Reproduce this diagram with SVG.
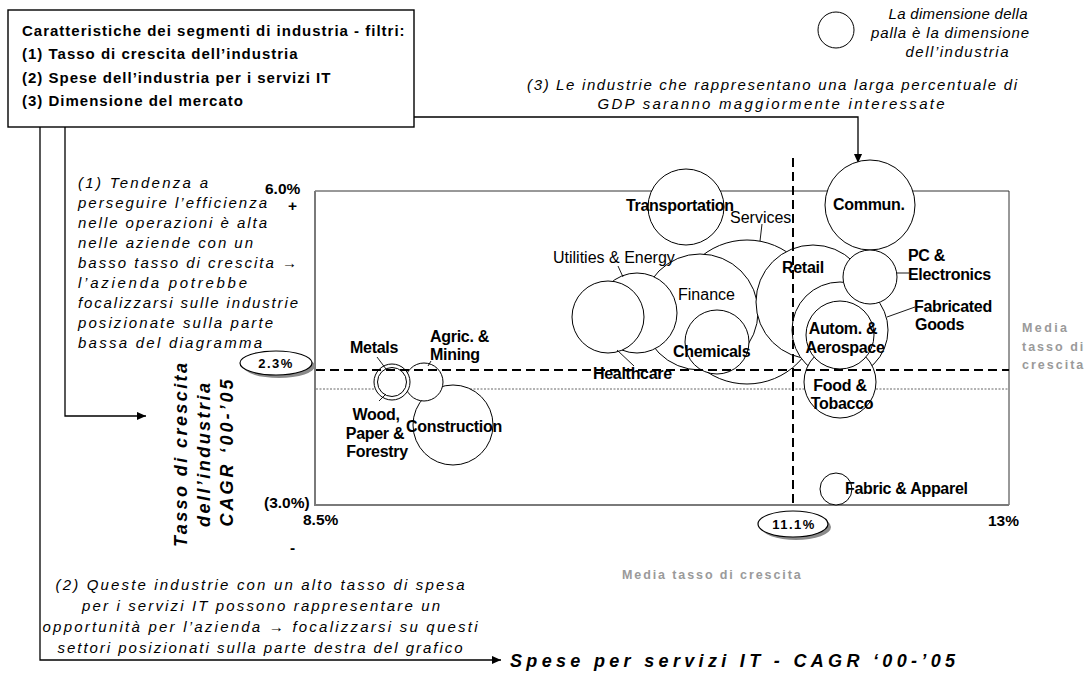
<svg xmlns="http://www.w3.org/2000/svg" width="1085" height="678" viewBox="0 0 1085 678">
  <style>
    text { font-family: "Liberation Sans", Arial, sans-serif; fill: #000; }
    .hdr { font-size: 15px; font-weight: bold; letter-spacing: 1px; }
    .note { font-size: 15px; font-style: italic; }
    .lbl { font-size: 16px; font-weight: bold; letter-spacing: -0.3px; }
    .lblr { font-size: 16px; }
    .ax { font-size: 15.5px; font-weight: bold; }
    .pill { font-size: 13px; font-weight: bold; letter-spacing: 1.5px; }
    .gray { font-size: 12.5px; font-weight: bold; fill: #9a9a9a; }
    .ttl { font-size: 18px; font-weight: bold; font-style: italic; }
    .bub { fill: #fff; stroke: #000; stroke-width: 1; }
    .lead { stroke: #000; stroke-width: 0.9; fill: none; }
    .conn { stroke: #000; stroke-width: 1.3; fill: none; }
    .dash { stroke: #000; stroke-width: 2; stroke-dasharray: 9 5; fill: none; }
    .dot { stroke: #555; stroke-width: 0.9; stroke-dasharray: 2 1.5; fill: none; }
  </style>
  <defs>
    <marker id="arr" viewBox="0 0 10 10" refX="10" refY="5" markerWidth="10" markerHeight="9" markerUnits="userSpaceOnUse" orient="auto">
      <path d="M0,0.5 L10,5 L0,9.5 z" fill="#000"/>
    </marker>
  </defs>

  <rect width="1085" height="678" fill="#fff"/>

  <!-- filter criteria box -->
  <g id="criteria">
    <rect x="8" y="10" width="406" height="117" fill="#fff" stroke="#000" stroke-width="1.4"/>
    <text class="hdr" x="22" y="36">Caratteristiche dei segmenti di industria - filtri:</text>
    <text class="hdr" x="22" y="59">(1) Tasso di crescita dell’industria</text>
    <text class="hdr" x="22" y="83">(2) Spese dell’industria per i servizi IT</text>
    <text class="hdr" x="22" y="106">(3) Dimensione del mercato</text>
  </g>

  <!-- bubble size legend -->
  <g id="legend">
    <circle class="bub" cx="836" cy="30" r="18"/>
    <text class="note" text-anchor="middle" x="958" y="19" textLength="139" lengthAdjust="spacing">La dimensione della</text>
    <text class="note" text-anchor="middle" x="950" y="38" textLength="158" lengthAdjust="spacing">palla è la dimensione</text>
    <text class="note" text-anchor="middle" x="957" y="57" textLength="103" lengthAdjust="spacing">dell’industria</text>
  </g>

  <!-- annotation (3) -->
  <g id="note3">
    <text class="note" text-anchor="middle" x="772" y="90" textLength="490" lengthAdjust="spacing">(3) Le industrie che rappresentano una larga percentuale di</text>
    <text class="note" text-anchor="middle" x="771" y="109" textLength="347" lengthAdjust="spacing">GDP saranno maggiormente interessate</text>
  </g>

  <!-- annotation (1) -->
  <g id="note1">
    <text class="note" x="78" y="188" textLength="130" lengthAdjust="spacing">(1) Tendenza a</text>
    <text class="note" x="78" y="208" textLength="189" lengthAdjust="spacing">perseguire l’efficienza</text>
    <text class="note" x="78" y="228" textLength="189" lengthAdjust="spacing">nelle operazioni è alta</text>
    <text class="note" x="78" y="248" textLength="175" lengthAdjust="spacing">nelle aziende con un</text>
    <text class="note" x="78" y="268" textLength="219" lengthAdjust="spacing">basso tasso di crescita →</text>
    <text class="note" x="78" y="288" textLength="169" lengthAdjust="spacing">l’azienda potrebbe</text>
    <text class="note" x="78" y="308" textLength="220" lengthAdjust="spacing">focalizzarsi sulle industrie</text>
    <text class="note" x="78" y="328" textLength="195" lengthAdjust="spacing">posizionate sulla parte</text>
    <text class="note" x="78" y="348" textLength="184" lengthAdjust="spacing">bassa del diagramma</text>
  </g>

  <!-- annotation (2) -->
  <g id="note2">
    <text class="note" text-anchor="middle" x="260" y="590" textLength="409" lengthAdjust="spacing">(2) Queste industrie con un alto tasso di spesa</text>
    <text class="note" text-anchor="middle" x="261" y="611" textLength="358" lengthAdjust="spacing">per i servizi IT possono rappresentare un</text>
    <text class="note" text-anchor="middle" x="260" y="632" textLength="435" lengthAdjust="spacing">opportunità per l’azienda →  focalizzarsi su questi</text>
    <text class="note" text-anchor="middle" x="260" y="653" textLength="405" lengthAdjust="spacing">settori posizionati sulla parte destra del grafico</text>
  </g>

  <!-- connectors from the criteria box -->
  <g id="connectors">
    <polyline class="conn" points="40,127 40,660 501,660" marker-end="url(#arr)"/>
    <polyline class="conn" points="65,127 65,416 146,416" marker-end="url(#arr)"/>
    <polyline class="conn" points="414,117 858,117 858,163" marker-end="url(#arr)"/>
  </g>

  <!-- chart frame -->
  <g id="frame">
    <path d="M315,191 H1009 V505" fill="none" stroke="#333" stroke-width="1"/>
    <path d="M315,191 V505 H1009" fill="none" stroke="#7a7a7a" stroke-width="2"/>
    <line class="dot" x1="316" y1="389" x2="1009" y2="389"/>
  </g>

  <!-- bubbles -->
  <g id="services"><circle class="bub" cx="747" cy="312" r="72"/></g>
  <g id="finance"><circle class="bub" cx="700" cy="312" r="58"/></g>
  <g id="utilities"><circle class="bub" cx="637" cy="313" r="40"/></g>
  <g id="healthcare"><circle class="bub" cx="608" cy="317" r="36"/></g>
  <g id="chemicals"><circle class="bub" cx="717" cy="342" r="32"/></g>
  <g id="transportation"><circle class="bub" cx="686" cy="207" r="38"/></g>
  <g id="retail"><circle class="bub" cx="813" cy="302" r="57"/></g>
  <g id="fabricated"><circle class="bub" cx="840" cy="330" r="48"/></g>
  <g id="commun"><circle class="bub" cx="870" cy="205" r="45"/></g>
  <g id="pc"><circle class="bub" cx="870" cy="277" r="27"/></g>
  <g id="food"><circle class="bub" cx="840" cy="382" r="36"/></g>
  <g id="autom"><circle class="bub" cx="840" cy="335" r="34"/></g>
  <g id="fabric"><circle class="bub" cx="836" cy="489" r="16"/></g>
  <g id="construction"><circle class="bub" cx="453" cy="425" r="40"/></g>
  <g id="agric"><circle class="bub" cx="424" cy="382" r="19"/></g>
  <g id="metals">
    <circle class="bub" cx="392" cy="382" r="18"/>
    <circle class="bub" cx="392" cy="382" r="14.5"/>
  </g>

  <!-- average lines -->
  <g id="averages">
    <line class="dash" x1="316" y1="370" x2="1009" y2="370"/>
    <line class="dash" x1="793" y1="158" x2="793" y2="505"/>
  </g>

  <!-- leader lines -->
  <g id="leaders">
    <line class="lead" x1="762" y1="224" x2="760" y2="241"/>
    <line class="lead" x1="618" y1="266" x2="623" y2="277"/>
    <line class="lead" x1="617" y1="350" x2="634" y2="366"/>
    <line class="lead" x1="377" y1="357" x2="386" y2="369"/>
    <line class="lead" x1="386" y1="394" x2="379" y2="401"/>
    <line class="lead" x1="431" y1="361" x2="428" y2="366"/>
    <line class="lead" x1="897" y1="273" x2="909" y2="273"/>
    <line class="lead" x1="887" y1="317" x2="915" y2="307"/>
  </g>

  <!-- bubble labels -->
  <g id="labels">
    <text class="lbl" x="626" y="211">Transportation</text>
    <text class="lblr" x="730" y="223">Services</text>
    <text class="lblr" x="553" y="263">Utilities &amp; Energy</text>
    <text class="lblr" x="678" y="300">Finance</text>
    <text class="lbl" x="673" y="357">Chemicals</text>
    <text class="lbl" x="593" y="379">Healthcare</text>
    <text class="lbl" x="782" y="273">Retail</text>
    <text class="lbl" x="833" y="210">Commun.</text>
    <text class="lbl" x="908" y="261">PC &amp;</text>
    <text class="lbl" x="908" y="280">Electronics</text>
    <text class="lbl" x="914" y="312">Fabricated</text>
    <text class="lbl" x="915" y="330">Goods</text>
    <text class="lbl" text-anchor="middle" x="843" y="334">Autom. &amp;</text>
    <text class="lbl" text-anchor="middle" x="845" y="353">Aerospace</text>
    <text class="lbl" text-anchor="middle" x="840" y="391">Food &amp;</text>
    <text class="lbl" text-anchor="middle" x="842" y="409">Tobacco</text>
    <text class="lbl" x="845" y="494">Fabric &amp; Apparel</text>
    <text class="lbl" x="350" y="353">Metals</text>
    <text class="lbl" x="430" y="342">Agric. &amp;</text>
    <text class="lbl" x="430" y="360">Mining</text>
    <text class="lbl" text-anchor="middle" x="376" y="420">Wood,</text>
    <text class="lbl" text-anchor="middle" x="375" y="439">Paper &amp;</text>
    <text class="lbl" text-anchor="middle" x="377" y="457">Forestry</text>
    <text class="lbl" x="406" y="432">Construction</text>
  </g>

  <!-- axis values -->
  <g id="axis-values">
    <text class="ax" x="265" y="194">6.0%</text>
    <text class="ax" x="288" y="211">+</text>
    <text class="ax" x="264" y="508">(3.0%)</text>
    <text class="ax" x="303" y="525">8.5%</text>
    <text class="ax" x="290" y="553">-</text>
    <text class="ax" x="988" y="526">13%</text>
  </g>

  <!-- average value pills -->
  <g id="avg-y">
    <ellipse cx="279" cy="366" rx="36" ry="12" fill="#8a8a8a"/>
    <ellipse cx="276" cy="363" rx="36" ry="12" fill="#fff" stroke="#000" stroke-width="1.2"/>
    <text class="pill" text-anchor="middle" x="276" y="368">2.3%</text>
  </g>
  <g id="avg-x">
    <ellipse cx="796" cy="527" rx="35" ry="13" fill="#8a8a8a"/>
    <ellipse cx="793" cy="524" rx="35" ry="13" fill="#fff" stroke="#000" stroke-width="1.2"/>
    <text class="pill" text-anchor="middle" x="794" y="529">11.1%</text>
  </g>

  <!-- average captions -->
  <g id="avg-captions">
    <text class="gray" x="1022" y="332" letter-spacing="2.4">Media</text>
    <text class="gray" x="1022" y="351" letter-spacing="2">tasso di</text>
    <text class="gray" x="1022" y="369" letter-spacing="2">crescita</text>
    <text class="gray" x="622" y="579" letter-spacing="1.9">Media tasso di crescita</text>
  </g>

  <!-- axis titles -->
  <g id="axis-titles">
    <text class="ttl" text-anchor="middle" transform="translate(187,455) rotate(-90)" textLength="184" lengthAdjust="spacing">Tasso di crescita</text>
    <text class="ttl" text-anchor="middle" transform="translate(210,455) rotate(-90)" textLength="144" lengthAdjust="spacing">dell’industria</text>
    <text class="ttl" text-anchor="middle" transform="translate(233,453) rotate(-90)" textLength="147" lengthAdjust="spacing">CAGR ‘00-’05</text>
    <text class="ttl" x="510" y="667" font-size="20" textLength="445" lengthAdjust="spacing">Spese per servizi IT - CAGR ‘00-’05</text>
  </g>
</svg>
